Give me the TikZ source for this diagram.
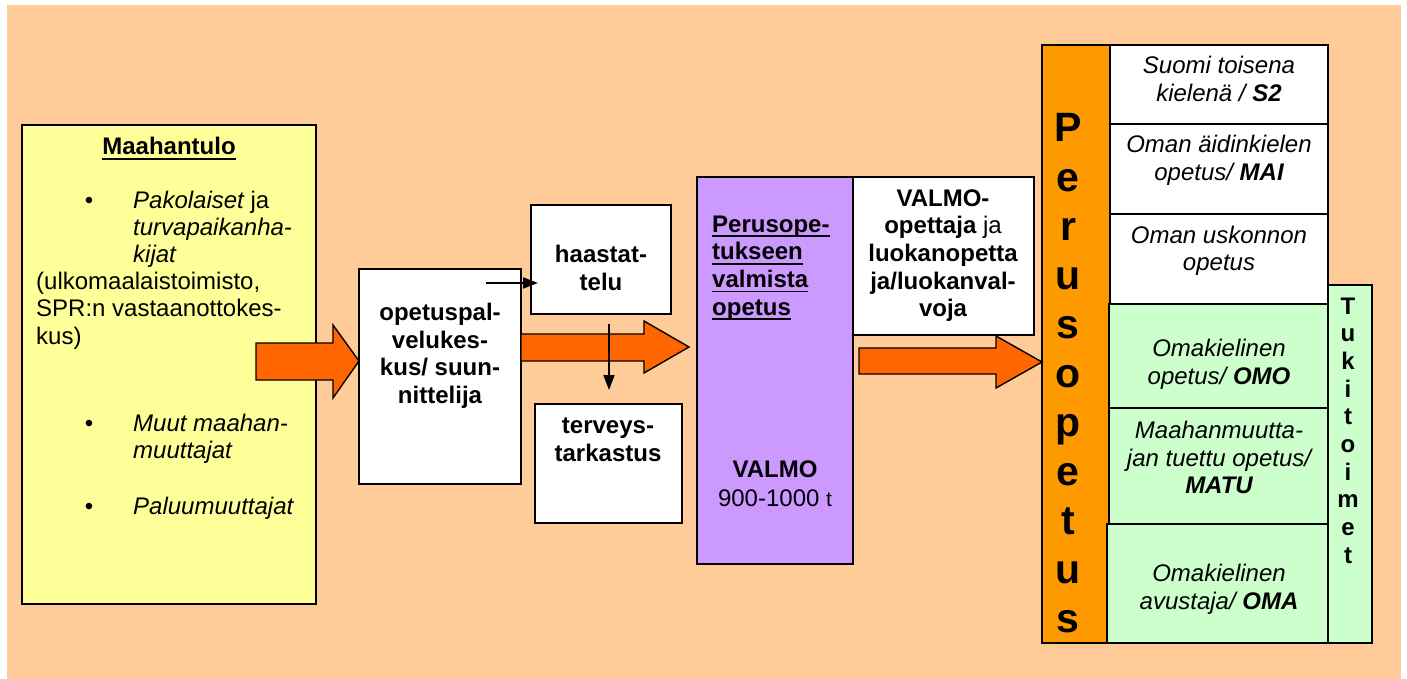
\documentclass[tikz,border=0pt]{standalone}
\usepackage{fontspec}
\setmainfont{Liberation Sans}
\usetikzlibrary{arrows.meta}
\newcommand\myul[1]{\leavevmode\setbox0\hbox{#1}\rlap{\rule[-4.8pt]{\wd0}{1.6pt}}\box0}
\definecolor{peach}{HTML}{FFCC99}
\definecolor{lyellow}{HTML}{FFFF99}
\definecolor{lpurple}{HTML}{CC99FF}
\definecolor{colorange}{HTML}{FF9900}
\definecolor{arrorange}{HTML}{FF6600}
\definecolor{lgreen}{HTML}{CCFFCC}
\begin{document}
\begin{tikzpicture}[x=1pt,y=-1pt,
  box/.style={draw=black, line width=1.8pt, anchor=north west, inner sep=0pt, outer sep=0pt},
  tx/.style={anchor=base, inner sep=0pt, font=\fontsize{24}{28}\selectfont},
  txl/.style={tx, anchor=base west},
  txb/.style={tx, font=\fontsize{24}{28}\selectfont\bfseries},
  txbl/.style={txb, anchor=base west},
  txi/.style={tx, font=\fontsize{24}{28}\selectfont\itshape},
  barr/.style={draw=black, line width=1.4pt, fill=arrorange, line join=miter},
  thinarr/.style={line width=1.8pt, -{Triangle[length=15pt,width=11pt]}},
  bigl/.style={anchor=base, inner sep=0pt, font=\fontsize{41}{49}\selectfont\bfseries},
  tukil/.style={anchor=base, inner sep=0pt, font=\fontsize{24}{28}\selectfont\bfseries},
  ]
\useasboundingbox (0,0) rectangle (1407,679);
\fill[peach] (7,5) rectangle (1401,679);

% boxes
\node[box, fill=lyellow, minimum width=294pt, minimum height=479pt] (maa) at (22,125) {};
\node[box, fill=white, minimum width=162pt, minimum height=215pt] (ops) at (359,269) {};
\node[box, fill=white, minimum width=140pt, minimum height=109pt] (haas) at (531,205) {};
\node[box, fill=white, minimum width=147pt, minimum height=119pt] (terv) at (535,404) {};
\node[box, fill=lpurple, minimum width=156pt, minimum height=387pt] (valmo) at (697,177) {};
\node[box, fill=white, minimum width=181pt, minimum height=158pt] (vop) at (853,177) {};
\node[box, fill=colorange, minimum width=68pt, minimum height=598pt] (perus) at (1042,45) {};
\node[box, fill=lgreen, minimum width=44pt, minimum height=358pt] (tuki) at (1328,285) {};
\node[box, fill=white, minimum width=218pt, minimum height=79pt] (s2) at (1110,45) {};
\node[box, fill=white, minimum width=218pt, minimum height=90pt] (mai) at (1110,124) {};
\node[box, fill=white, minimum width=218pt, minimum height=90pt] (usk) at (1110,214) {};
\node[box, fill=lgreen, minimum width=219pt, minimum height=104pt] (omo) at (1109,304) {};
\node[box, fill=lgreen, minimum width=219pt, minimum height=116pt] (matu) at (1109,408) {};
\node[box, fill=lgreen, minimum width=221pt, minimum height=119pt] (oma) at (1107,524) {};

% block arrows
\draw[barr] (256,343) -- (333,343) -- (333,325) -- (ops.west |- 0,361) -- (333,398) -- (333,380) -- (256,380) -- cycle;
\draw[barr] (ops.east |- 0,334) -- (644,334) -- (644,321) -- (689,347) -- (644,373) -- (644,361) -- (ops.east |- 0,361) -- cycle;
\draw[barr] (859,348) -- (996,348) -- (996,336) -- (perus.west |- 0,362) -- (996,388) -- (996,374) -- (859,374) -- cycle;

% thin arrows
\coordinate (h1) at (486,283);
\draw[thinarr] (h1) -- ([xshift=7pt]haas.west |- h1);
\coordinate (v1) at (609,324);
\coordinate (v2) at (609,390);
\draw[thinarr] (v1) -- (v2);

% Maahantulo text
\node[txb] (mh) at (169,155) {\myul{Maahantulo}};
\node[tx] (bu1) at (89,208) {•};
\node[txl] (m1) at (133,208) {\itshape Pakolaiset\upshape{} ja};
\node[txl] (m2) at (133,235) {\itshape turvapaikanha-};
\node[txl] (m3) at (133,262) {\itshape kijat};
\node[txl] (m4) at (36,289) {(ulkomaalaistoimisto,};
\node[txl] (m5) at (36,316.5) {SPR:n vastaanottokes-};
\node[txl] (m6) at (36,344) {kus)};
\node[tx] (bu2) at (89,431) {•};
\node[txl] (m7) at (133,431) {\itshape Muut maahan-};
\node[txl] (m8) at (133,458) {\itshape muuttajat};
\node[tx] (bu3) at (89,514) {•};
\node[txl] (m9) at (133,514) {\itshape Paluumuuttajat};

% opetuspalvelukeskus etc.
\node[txb] (o1) at (440,320) {opetuspal-};
\node[txb] (o2) at (440,348) {velukes-};
\node[txb] (o3) at (440,375.5) {kus/ suun-};
\node[txb] (o4) at (440,403) {nittelija};
\node[txb] (ha1) at (601,262) {haastat-};
\node[txb] (ha2) at (601,290) {telu};
\node[txb] (te1) at (608,433) {terveys-};
\node[txb] (te2) at (608,461) {tarkastus};
\node[txbl] (p1) at (712,232) {\myul{Perusope-}};
\node[txbl] (p2) at (712,259.7) {\myul{tukseen}};
\node[txbl] (p3) at (712,287.4) {\myul{valmista}};
\node[txbl] (p4) at (712,315) {\myul{opetus}};
\node[txb] (va1) at (775,477) {VALMO};
\node[tx] (va2) at (775,506) {900-1000 {\fontsize{21}{24}\selectfont t}};
\node[txb] (vo1) at (943,206) {VALMO-};
\node[txb] (vo2) at (943,233.7) {opettaja\mdseries{} ja};
\node[txb] (vo3) at (943,261.4) {luokanopetta};
\node[txb] (vo4) at (943,289) {ja/luokanval-};
\node[txb] (vo5) at (943,316.8) {voja};

% right boxes text
\node[txi] (r1) at (1219,74) {Suomi toisena};
\node[txi] (r2) at (1219,102) {kielenä / \textbf{S2}};
\node[txi] (r3) at (1219,153) {Oman äidinkielen};
\node[txi] (r4) at (1219,181) {opetus/ \textbf{MAI}};
\node[txi] (r5) at (1219,243) {Oman uskonnon};
\node[txi] (r6) at (1219,270) {opetus};
\node[txi] (r7) at (1219,356) {Omakielinen};
\node[txi] (r8) at (1219,384) {opetus/ \textbf{OMO}};
\node[txi] (r9) at (1219,438) {Maahanmuutta-};
\node[txi] (r10) at (1219,466) {jan tuettu opetus/};
\node[txi] (r11) at (1219,493) {\textbf{MATU}};
\node[txi] (r12) at (1219,581) {Omakielinen};
\node[txi] (r13) at (1219,609) {avustaja/ \textbf{OMA}};

% vertical words
\foreach \c [count=\i from 0] in {P,e,r,u,s,o,p,e,t,u,s}
  \node[bigl] (pl\i) at (1068,{142+49*\i}) {\c};
\foreach \c [count=\i from 0] in {T,u,k,i,t,o,i,m,e,t}
  \node[tukil] (tl\i) at (1348,{314+27.7*\i}) {\c};
\end{tikzpicture}
\end{document}
